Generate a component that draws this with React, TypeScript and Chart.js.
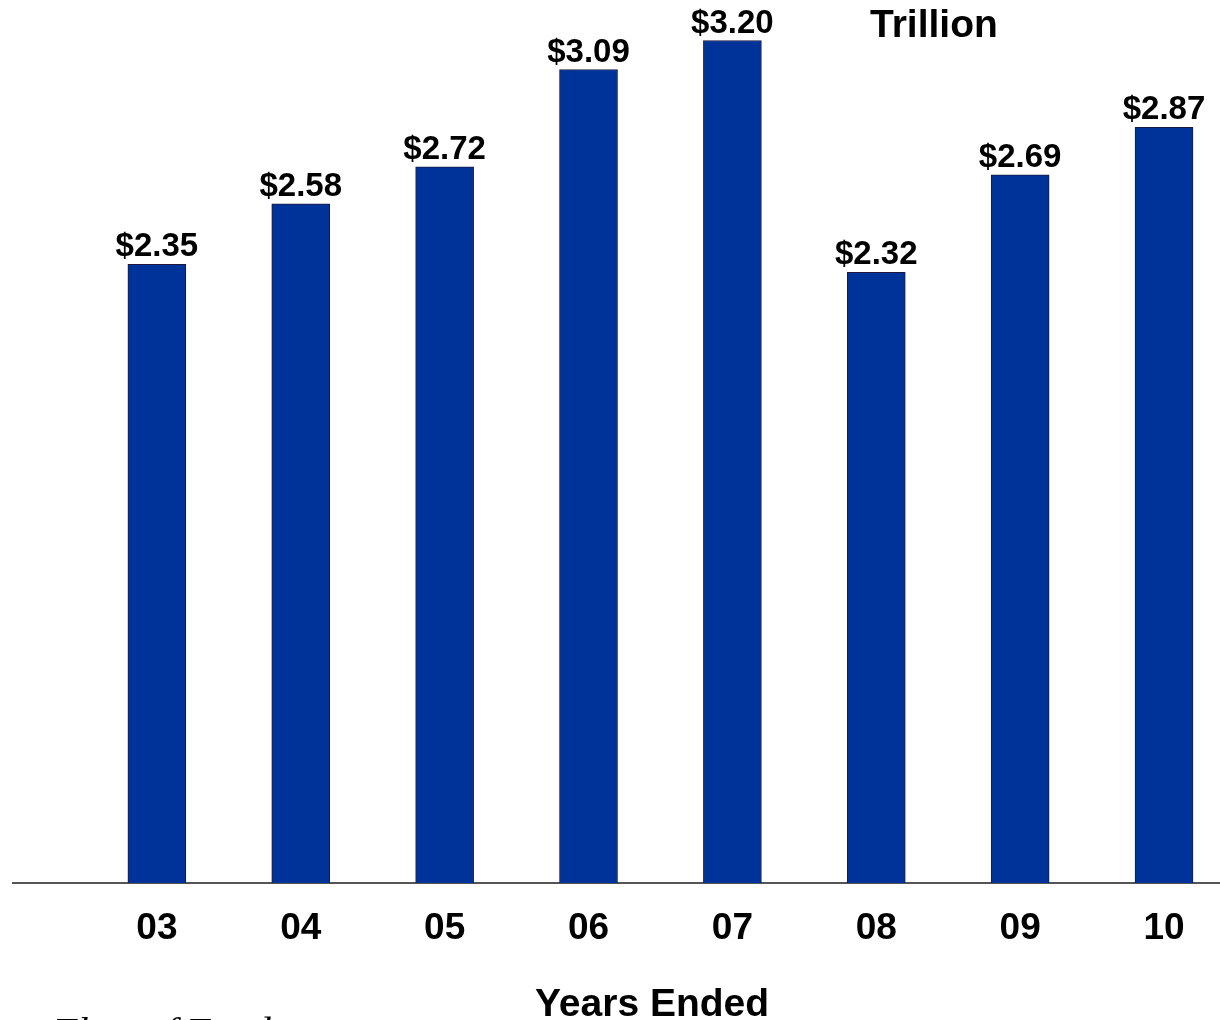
import React, { useEffect, useRef } from "react";
import { Chart, registerables } from "chart.js";

Chart.register(...registerables);

const years = ["03", "04", "05", "06", "07", "08", "09", "10"];
const values = [2.35, 2.58, 2.72, 3.09, 3.2, 2.32, 2.69, 2.87];
const valueLabels = ["$2.35", "$2.58", "$2.72", "$3.09", "$3.20", "$2.32", "$2.69", "$2.87"];
const unitLabel = "Trillion";
const axisTitle = "Years Ended";
const footerText = "Flow of Funds";

const FONT = "Arial, 'Liberation Sans', Helvetica, sans-serif";

const textPlugin = {
  id: "texts",
  afterDatasetsDraw(chart: any) {
    const ctx = chart.ctx;
    const meta = chart.getDatasetMeta(0);
    ctx.save();
    ctx.fillStyle = "#000";
    ctx.font = `bold 33px ${FONT}`;
    ctx.textAlign = "center";
    ctx.textBaseline = "alphabetic";
    meta.data.forEach((bar: any, i: number) => {
      ctx.fillText(valueLabels[i], bar.x, bar.y - 8);
    });
    ctx.font = `bold 39px ${FONT}`;
    ctx.textAlign = "left";
    ctx.fillText(unitLabel, 870, 37);
    ctx.font = `bold 39px ${FONT}`;
    ctx.fillText(axisTitle, 535, 1016);
    ctx.font = `italic 40px 'Liberation Serif', 'Times New Roman', serif`;
    ctx.fillText(footerText, 53, 1045);
    ctx.restore();
  },
};

export default function App() {
  const ref = useRef<HTMLCanvasElement | null>(null);
  useEffect(() => {
    if (!ref.current) return;
    const chart = new Chart(ref.current, {
      type: "bar",
      data: {
        datasets: [
          {
            data: years.map((_, i) => ({ x: i, y: values[i] })),
            backgroundColor: "#003399",
            borderColor: "#1a1a40",
            borderWidth: 1,
            barThickness: 58,
          },
        ],
      },
      options: {
        responsive: false,
        animation: false,
        layout: { padding: { left: 13, right: 0, top: 0, bottom: 0 } },
        plugins: { legend: { display: false }, tooltip: { enabled: false } },
        scales: {
          x: {
            type: "linear",
            offset: false,
            min: -1,
            max: 7.389,
            grid: { display: false, drawTicks: false },
            border: { display: true, color: "#555", width: 2 },
            afterBuildTicks: (scale: any) => {
              scale.ticks = years.map((_, i) => ({ value: i }));
            },
            afterFit: (scale: any) => {
              scale.height = 137;
            },
            ticks: {
              autoSkip: false,
              maxRotation: 0,
              padding: 24,
              color: "#000",
              font: { family: FONT, size: 37, weight: "bold" },
              callback: (v: any) => (years[Math.round(v)] ?? ""),
            },
          },
          y: { display: false, min: 0, max: 3.354 },
        },
      },
      plugins: [textPlugin],
    } as any);
    return () => chart.destroy();
  }, []);
  return (
    <div style={{ position: "fixed", left: 0, top: 0, width: 1220, height: 1020, background: "#fff", overflow: "hidden" }}>
      <canvas ref={ref} width={1220} height={1020} style={{ display: "block" }} />
    </div>
  );
}
